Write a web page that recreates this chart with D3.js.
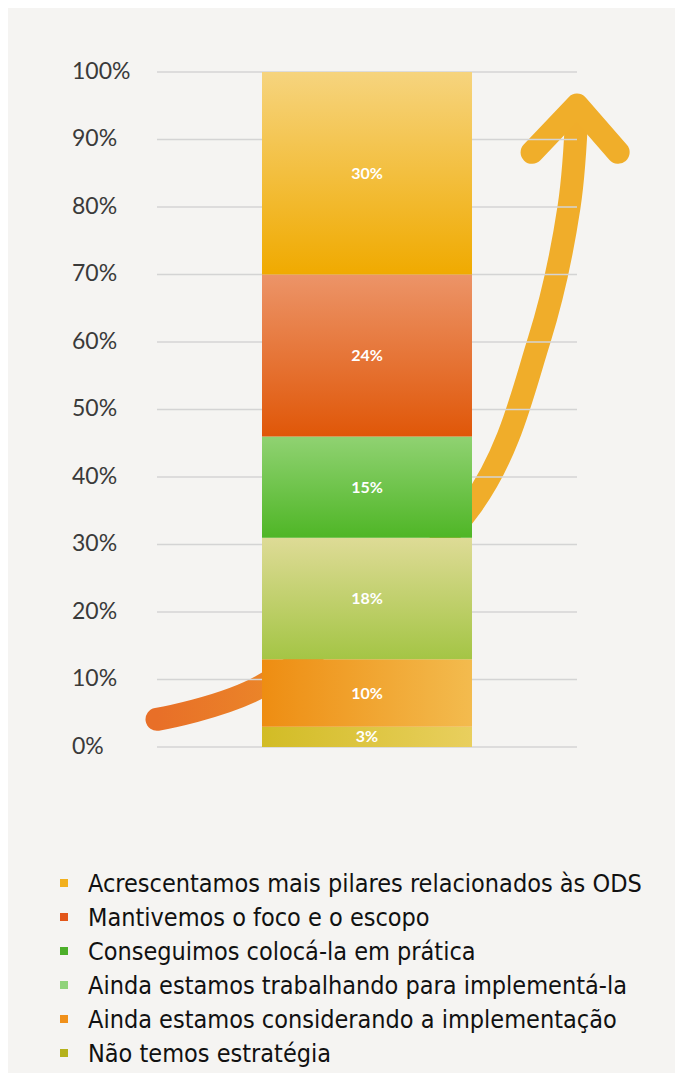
<!DOCTYPE html>
<html><head><meta charset="utf-8">
<script src="https://cdn.jsdelivr.net/npm/d3@7"></script>
<style>html,body{margin:0;padding:0;background:#fff;}svg{display:block;}</style>
</head><body>
<script>
// ---- data ----
const categories = ["Não temos estratégia","Ainda estamos considerando a implementação","Ainda estamos trabalhando para implementá-la","Conseguimos colocá-la em prática","Mantivemos o foco e o escopo","Acrescentamos mais pilares relacionados às ODS"];
const values = [3, 10, 18, 15, 24, 30];
const valueLabels = ["3%","10%","18%","15%","24%","30%"];
const yTicks = [0,10,20,30,40,50,60,70,80,90,100];
const tickLabels = ["0%","10%","20%","30%","40%","50%","60%","70%","80%","90%","100%"];
const legendOrder = ["Acrescentamos mais pilares relacionados às ODS","Mantivemos o foco e o escopo","Conseguimos colocá-la em prática","Ainda estamos trabalhando para implementá-la","Ainda estamos considerando a implementação","Não temos estratégia"];
const legendColors = ["#f2b01e","#e2561a","#4caf2a","#8fd37a","#f0901a","#b5b21c"];
// gradient stops per segment: [start, end, direction]
const segGradients = [["#d2bc25","#e9cf5e","h"],["#ee8d12","#f3bb4e","h"],["#a4c545","#dedb96","v"],["#4fb626","#90d272","v"],["#e05708","#ec9468","v"],["#f0aa00","#f6d47e","v"]];
// arrow path in (fraction of plot width, percent) units
const arrowPts = [[0,4.1],[0.248,9.0],[0.75,35.9],[0.91,60.3],[0.981,80.0],[1.0,94.6]];
const arrowHead = [[0.893,88.1],[1.0,95.1],[1.098,88.1]];

const W=681,H=1073;
const svg=d3.select("body").append("svg").attr("width",W).attr("height",H);
const defs=svg.append("defs");
svg.append("rect").attr("x",8).attr("y",8).attr("width",667).attr("height",H-8).attr("fill","#f5f4f2");

const y=d3.scaleLinear().domain([0,100]).range([747,72]);
const x=d3.scaleLinear().domain([0,1]).range([157,577]);

// arrow gradient
const ag=defs.append("linearGradient").attr("id","ag").attr("gradientUnits","userSpaceOnUse")
  .attr("x1",x(0)).attr("x2",x(0.75)).attr("y1",0).attr("y2",0);
ag.append("stop").attr("offset",0).attr("stop-color","#e86f28");
ag.append("stop").attr("offset",1).attr("stop-color","#f0ad2a");

const line=d3.line().x(d=>x(d[0])).y(d=>y(d[1])).curve(d3.curveCatmullRom.alpha(0.5));
svg.append("path").attr("d",line(arrowPts)).attr("fill","none").attr("stroke","url(#ag)")
  .attr("stroke-width",23).attr("stroke-linecap","round");
svg.append("path").attr("d",d3.line().x(d=>x(d[0])).y(d=>y(d[1]))(arrowHead)).attr("fill","none")
  .attr("stroke","#f0ae2a").attr("stroke-width",23).attr("stroke-linecap","round").attr("stroke-linejoin","round");

// grid + labels
const g=svg.append("g");
g.selectAll("line.grid").data(yTicks).join("line").attr("class","grid")
  .attr("x1",x(0)).attr("x2",x(1)).attr("y1",d=>y(d)).attr("y2",d=>y(d))
  .attr("stroke","#d4d4d4").attr("stroke-width",1.5);
g.selectAll("text.tick").data(yTicks).join("text").attr("class","tick")
  .attr("x",72).attr("y",d=>y(d)).attr("dy","0.3em")
  .attr("font-family","Lato, sans-serif").attr("font-size",23).attr("fill","#3a3a3a")
  .text((d,i)=>tickLabels[i]);

// stacked bar
const stack=[];let acc=0;
values.forEach((v,i)=>{stack.push({i,y0:acc,y1:acc+v,label:valueLabels[i]});acc+=v;});
stack.forEach(s=>{
  const [c0,c1,dir]=segGradients[s.i];
  const gr=defs.append("linearGradient").attr("id","sg"+s.i);
  if(dir==="h"){gr.attr("x1",0).attr("x2",1).attr("y1",0).attr("y2",0);}
  else{gr.attr("x1",0).attr("x2",0).attr("y1",1).attr("y2",0);}
  gr.append("stop").attr("offset",0).attr("stop-color",c0);
  gr.append("stop").attr("offset",1).attr("stop-color",c1);
});
const bx0=x(0.25),bx1=x(0.75);
svg.selectAll("rect.seg").data(stack).join("rect").attr("class","seg")
  .attr("x",bx0).attr("width",bx1-bx0).attr("y",d=>y(d.y1)).attr("height",d=>y(d.y0)-y(d.y1))
  .attr("fill",d=>`url(#sg${d.i})`);
svg.selectAll("text.val").data(stack).join("text").attr("class","val")
  .attr("x",(bx0+bx1)/2).attr("y",d=>y((d.y0+d.y1)/2)).attr("dy","0.35em")
  .attr("text-anchor","middle").attr("font-family","Lato, sans-serif").attr("font-weight","bold")
  .attr("font-size",16).attr("fill","#fff").text(d=>d.label);

// legend
const lg=svg.append("g");
legendOrder.forEach((name,i)=>{
  const cy=883+i*34;
  lg.append("rect").attr("x",60).attr("y",cy-4).attr("width",8).attr("height",8).attr("fill",legendColors[i]);
  lg.append("text").attr("x",88).attr("y",cy).attr("dy","0.36em")
    .attr("font-family","'Liberation Sans Narrow','DejaVu Sans Condensed',sans-serif")
    .attr("font-size",25).attr("fill","#111").text(name);
});
</script>
</body></html>
